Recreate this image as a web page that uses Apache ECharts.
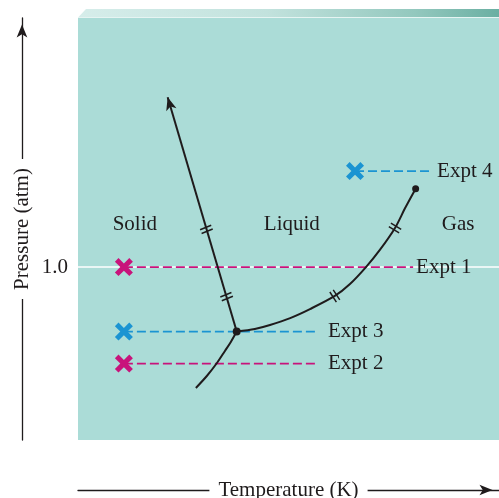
<!DOCTYPE html>
<html>
<head>
<meta charset="utf-8">
<style>
html, body { margin: 0; padding: 0; background: #fff; }
#chart { width: 499px; height: 498px; }
</style>
<script src="https://cdn.jsdelivr.net/npm/echarts@6/dist/echarts.min.js"></script>
</head>
<body>
<div id="chart"></div>
<script>
// 相图数据 (温度为任意单位, 压强单位 atm)
const tempRange = [0, 100];
const pressRange = [0, 2.44];
const pressTicks = [1.0];

const triplePoint = [37.7, 0.627];
const criticalPoint = [80.2, 1.453];

// 升华线
const sublimationT = [28.0, 30.6, 33.0, 34.9, 36.3, 37.7];
const sublimationP = [0.301, 0.370, 0.445, 0.515, 0.567, 0.627];

// 汽化线
const vaporT = [37.7, 42.0, 45.6, 50.4, 55.1, 61.0, 64.6, 68.4, 71.7, 75.3, 77.7, 80.2];
const vaporP = [0.627, 0.642, 0.665, 0.705, 0.757, 0.833, 0.902, 1.0, 1.099, 1.226, 1.341, 1.453];

// 熔化线
const fusionT = [37.7, 21.3];
const fusionP = [0.627, 1.982];

// 断线标记
const breakT = [30.5, 35.3, 61.0, 75.3];
const breakP = [1.218, 0.829, 0.833, 1.226];

const phaseNames = ['Solid', 'Liquid', 'Gas'];
const phaseT = [13.5, 50.8, 90.3];
const phaseP = [1.249, 1.249, 1.249];

const exptNames = ['Expt 1', 'Expt 2', 'Expt 3', 'Expt 4'];
const exptStartT = [10.9, 10.9, 10.9, 65.8];
const exptEndT = [79.6, 57.0, 57.0, 83.4];
const exptP = [1.0, 0.442, 0.627, 1.555];

const FONT = 'Liberation Serif';
const FS = 21;
const INK = '#1f1b1c';
const MAGENTA = '#c8137b';
const BLUE = '#1b94d2';
const exptColors = [MAGENTA, MAGENTA, BLUE, BLUE];
const exptLabelGap = [3, 10, 10, 8];
const breakRotate = [22, 22, -57, -31];
const X_MARK = 'path://M2,0L5,3L8,0L10,2L7,5L10,8L8,10L5,7L2,10L0,8L3,5L0,2Z';

const zip = (a, b) => a.map((v, i) => [v, b[i]]);

const chart = echarts.init(document.getElementById('chart'), null, { renderer: 'canvas' });

const series = [];

// 1.0 atm 白线
series.push({
    type: 'line', z: 1, silent: true, symbol: 'none',
    data: [[tempRange[0], pressTicks[0]], [tempRange[1], pressTicks[0]]],
    lineStyle: { color: '#ffffff', width: 1.5 }
});

// 实验虚线 + 标签
exptNames.forEach((name, i) => {
    series.push({
        type: 'line', z: 2, silent: true, symbol: 'none',
        data: [[exptStartT[i], exptP[i]], [exptEndT[i], exptP[i]]],
        lineStyle: { color: exptColors[i], width: 1.8, type: [9, 4] },
        endLabel: {
            show: true, formatter: name, distance: exptLabelGap[i],
            color: INK, fontFamily: FONT, fontSize: FS
        }
    });
});

// 相线
const curveStyle = { color: INK, width: 2 };
series.push({ type: 'line', z: 3, symbol: 'none', smooth: 0.3, data: zip(sublimationT, sublimationP), lineStyle: curveStyle });
series.push({ type: 'line', z: 3, symbol: 'none', smooth: 0.3, data: zip(vaporT, vaporP), lineStyle: curveStyle });
series.push({ type: 'line', z: 3, symbol: 'none', data: zip(fusionT, fusionP), lineStyle: curveStyle });

// 熔化线箭头
series.push({
    type: 'scatter', z: 4, symbol: 'arrow', symbolSize: [8, 13], symbolRotate: 16.5,
    data: [[fusionT[1], fusionP[1]]], itemStyle: { color: INK, opacity: 1 }
});

// 断线标记
series.push({
    type: 'scatter', z: 4,
    symbol: 'path://M0,0H12V1.6H0Z M0,4.4H12V6H0Z', symbolSize: [12, 5.5],
    data: breakT.map((t, i) => ({ value: [t, breakP[i]], symbolRotate: breakRotate[i] })),
    itemStyle: { color: INK, opacity: 1 }
});

// 三相点 / 临界点
series.push({
    type: 'scatter', z: 5,
    data: [
        { value: triplePoint, symbolSize: 8 },
        { value: criticalPoint, symbolSize: 7 }
    ],
    itemStyle: { color: INK, opacity: 1 }
});

// 实验起点 ×
series.push({
    type: 'scatter', z: 5, symbol: X_MARK, symbolSize: 18,
    data: exptNames.map((n, i) => ({ value: [exptStartT[i], exptP[i]], itemStyle: { color: exptColors[i], opacity: 1 } }))
});

// 相区名称
series.push({
    type: 'scatter', z: 5, symbolSize: 0,
    data: phaseNames.map((n, i) => ({ value: [phaseT[i], phaseP[i]], name: n })),
    itemStyle: { opacity: 1 },
    label: {
        show: true, position: 'inside', formatter: p => p.name,
        color: INK, fontFamily: FONT, fontSize: FS
    }
});

const axisNameStyle = {
    fontFamily: FONT, fontSize: FS, color: INK,
    backgroundColor: '#ffffff', padding: [2, 9],
    align: 'center', verticalAlign: 'middle'
};
const arrowLine = {
    show: true, onZero: false, symbol: ['none', 'arrow'], symbolSize: [8, 13], symbolOffset: [0, -6.5],
    lineStyle: { color: INK, width: 1.3 }
};
const hidden = { show: false };

chart.setOption({
    animation: false,
    grid: {
        left: 78, right: 0, top: 18, bottom: 58,
        outerBoundsMode: 'none', containLabel: false,
        show: true, backgroundColor: '#abdcd7', borderWidth: 0
    },
    graphic: [
        {
            type: 'polygon', z: -1,
            shape: { points: [[78, 17.5], [86, 9], [499, 9], [499, 17.5]] },
            style: {
                fill: new echarts.graphic.LinearGradient(0, 0, 1, 0, [
                    { offset: 0, color: '#d6edea' },
                    { offset: 0.45, color: '#c2e2dd' },
                    { offset: 0.8, color: '#93c8be' },
                    { offset: 1, color: '#6aafa2' }
                ])
            }
        },
        {
            type: 'line', z: 10,
            shape: { x1: 78, y1: 17.5, x2: 499, y2: 17.5 },
            style: { stroke: '#e6f4f2', lineWidth: 1 }
        }
    ],
    xAxis: [
        {
            type: 'value', min: tempRange[0], max: tempRange[1], offset: 50,
            axisLine: arrowLine, axisTick: hidden, axisLabel: hidden, splitLine: hidden
        },
        {
            // 只放轴名, 盖住箭头线的中段
            type: 'value', position: 'bottom', min: tempRange[0], max: tempRange[1], offset: 50,
            axisLine: hidden, axisTick: hidden, axisLabel: hidden, splitLine: hidden,
            name: 'Temperature (K)', nameLocation: 'middle', nameGap: 0,
            nameTextStyle: axisNameStyle
        }
    ],
    yAxis: [
        {
            type: 'value', position: 'left', min: pressRange[0], max: pressRange[1],
            axisLine: hidden, axisTick: hidden, splitLine: hidden,
            axisLabel: {
                customValues: pressTicks, formatter: v => v.toFixed(1),
                margin: 10, color: INK, fontFamily: FONT, fontSize: FS
            }
        },
        {
            type: 'value', position: 'left', min: pressRange[0], max: pressRange[1], offset: 56,
            axisLine: arrowLine, axisTick: hidden, axisLabel: hidden, splitLine: hidden
        },
        {
            type: 'value', position: 'left', min: pressRange[0], max: pressRange[1], offset: 56,
            axisLine: hidden, axisTick: hidden, axisLabel: hidden, splitLine: hidden,
            name: 'Pressure (atm)', nameLocation: 'middle', nameGap: 0, nameRotate: 90,
            nameTextStyle: axisNameStyle
        }
    ],
    series: series
});

window.addEventListener('resize', () => chart.resize());
</script>
</body>
</html>
